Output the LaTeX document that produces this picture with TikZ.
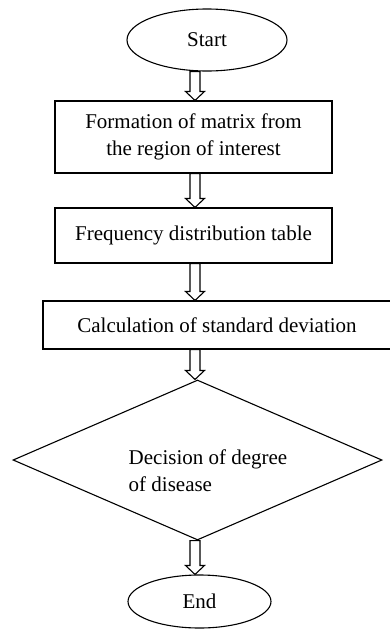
\documentclass[tikz,border=0pt]{standalone}
\usepackage{fontspec}
\setmainfont{Liberation Serif}
\usetikzlibrary{shapes.geometric, calc}

% hollow block arrow between two named nodes, along the axis
\newcommand{\flowarrow}[2]{%
  \draw[flow] let \p1=(axis |- #1.south), \p2=(axis |- #2.north) in
    (\x1-5pt,\y1) -- (\x1-5pt,\y2+9pt) -- (\x1-9.5pt,\y2+9pt) -- (\x2,\y2)
    -- (\x1+9.5pt,\y2+9pt) -- (\x1+5pt,\y2+9pt) -- (\x1+5pt,\y1) -- cycle;}

\begin{document}
\begin{tikzpicture}[
    x=1pt, y=-1pt,
    every node/.style={font=\fontsize{21}{27.5}\selectfont, line width=1.1pt},
    terminal/.style={ellipse,draw,inner sep=0pt},
    process/.style={rectangle,draw,inner sep=0pt,align=center},
    decision/.style={diamond,draw,inner sep=0pt,align=left,aspect=2.3},
    flow/.style={draw,fill=white,line width=1.1pt}
]
\useasboundingbox (0,0) rectangle (389,630);
\coordinate (axis) at (195,0);
\node[terminal,minimum width=160pt,minimum height=62pt] (start) at (207,40) {Start};
\node[process,minimum width=277pt,minimum height=72pt] (matrix) at (193.5,137) {Formation of matrix from\\the region of interest};
\node[process,minimum width=277pt,minimum height=55pt] (freq) at (193.5,235.5) {Frequency distribution table};
\node[process,minimum width=348pt,minimum height=48pt] (stdev) at (217,325) {Calculation of standard deviation};
\node[decision,minimum width=369pt,minimum height=160pt] (degree) at (197.5,460) {\hspace*{21pt}\rule{0pt}{36pt}Decision of degree\\\hspace*{21pt}of disease};
\node[terminal,minimum width=143pt,minimum height=53pt] (end) at (199.5,601.5) {End};
\flowarrow{start}{matrix}
\flowarrow{matrix}{freq}
\flowarrow{freq}{stdev}
\flowarrow{stdev}{degree}
\flowarrow{degree}{end}
\end{tikzpicture}
\end{document}
